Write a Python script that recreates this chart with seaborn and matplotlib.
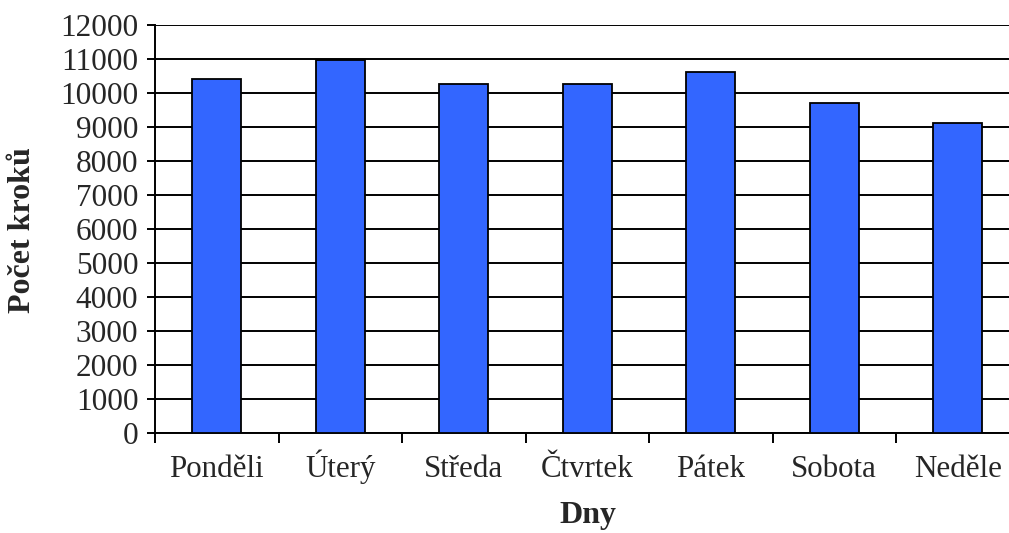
import numpy as np
import pandas as pd
import matplotlib
matplotlib.use("Agg")
import matplotlib.pyplot as plt
import seaborn as sns
from matplotlib.ticker import FixedLocator

# data
dny = ["Ponděli", "Úterý", "Středa", "Čtvrtek", "Pátek", "Sobota", "Neděle"]
kroky = [10410, 10970, 10260, 10260, 10620, 9710, 9120]

df = pd.DataFrame({"Dny": dny, "Kroky": kroky})

sns.set_style("white")
plt.rcParams['font.family'] = ['Liberation Serif', 'DejaVu Serif']

W, H = 1009, 533
L, R, T, B = 155, 1019.5, 25, 433   # axes box in pixels (right edge runs off the picture)
fig = plt.figure(figsize=(W / 100, H / 100), dpi=100)
ax = fig.add_axes([L / W, 1 - B / H, (R - L) / W, (B - T) / H])

sns.barplot(data=df, x="Dny", y="Kroky", color="#3366FF", width=0.4,
            edgecolor="black", linewidth=1.3, saturation=1, ax=ax, zorder=3)

ax.set_ylim(0, 12000)
ax.set_xlim(-0.5, len(dny) - 0.5)
ax.set_yticks(np.arange(0, 12001, 1000))
ax.yaxis.grid(True, color="black", linewidth=1.4, zorder=0)
ax.set_axisbelow(True)

# ticks between categories, like a spreadsheet chart
ax.xaxis.set_minor_locator(FixedLocator(np.arange(-0.5, len(dny), 1.0)))
ax.tick_params(axis="x", which="major", length=0, labelsize=22.3, pad=31.5)
ax.tick_params(axis="x", which="minor", length=7, width=1.4, color="black", direction="out", bottom=True)
ax.tick_params(axis="y", which="major", length=6, width=1.4, color="black", direction="out",
               left=True, labelsize=22.5, pad=6)
for lab in ax.get_xticklabels():
    lab.set_verticalalignment("baseline")

for s in ["top", "right"]:
    ax.spines[s].set_visible(False)
for s in ["left", "bottom"]:
    ax.spines[s].set_color("black")
    ax.spines[s].set_linewidth(1.4)

ax.set_xlabel("Dny", fontsize=23, fontweight="bold")
ax.set_ylabel("Počet kroků", fontsize=23, fontweight="bold")
ax.xaxis.label.set_verticalalignment("baseline")
ax.xaxis.set_label_coords((587.5 - L) / (R - L), -(523 - B) / (B - T))
ax.yaxis.label.set_verticalalignment("center")
ax.yaxis.set_label_coords(-(L - 23) / (R - L), (B - 230) / (B - T))

fig.savefig("out.png", dpi=100)
